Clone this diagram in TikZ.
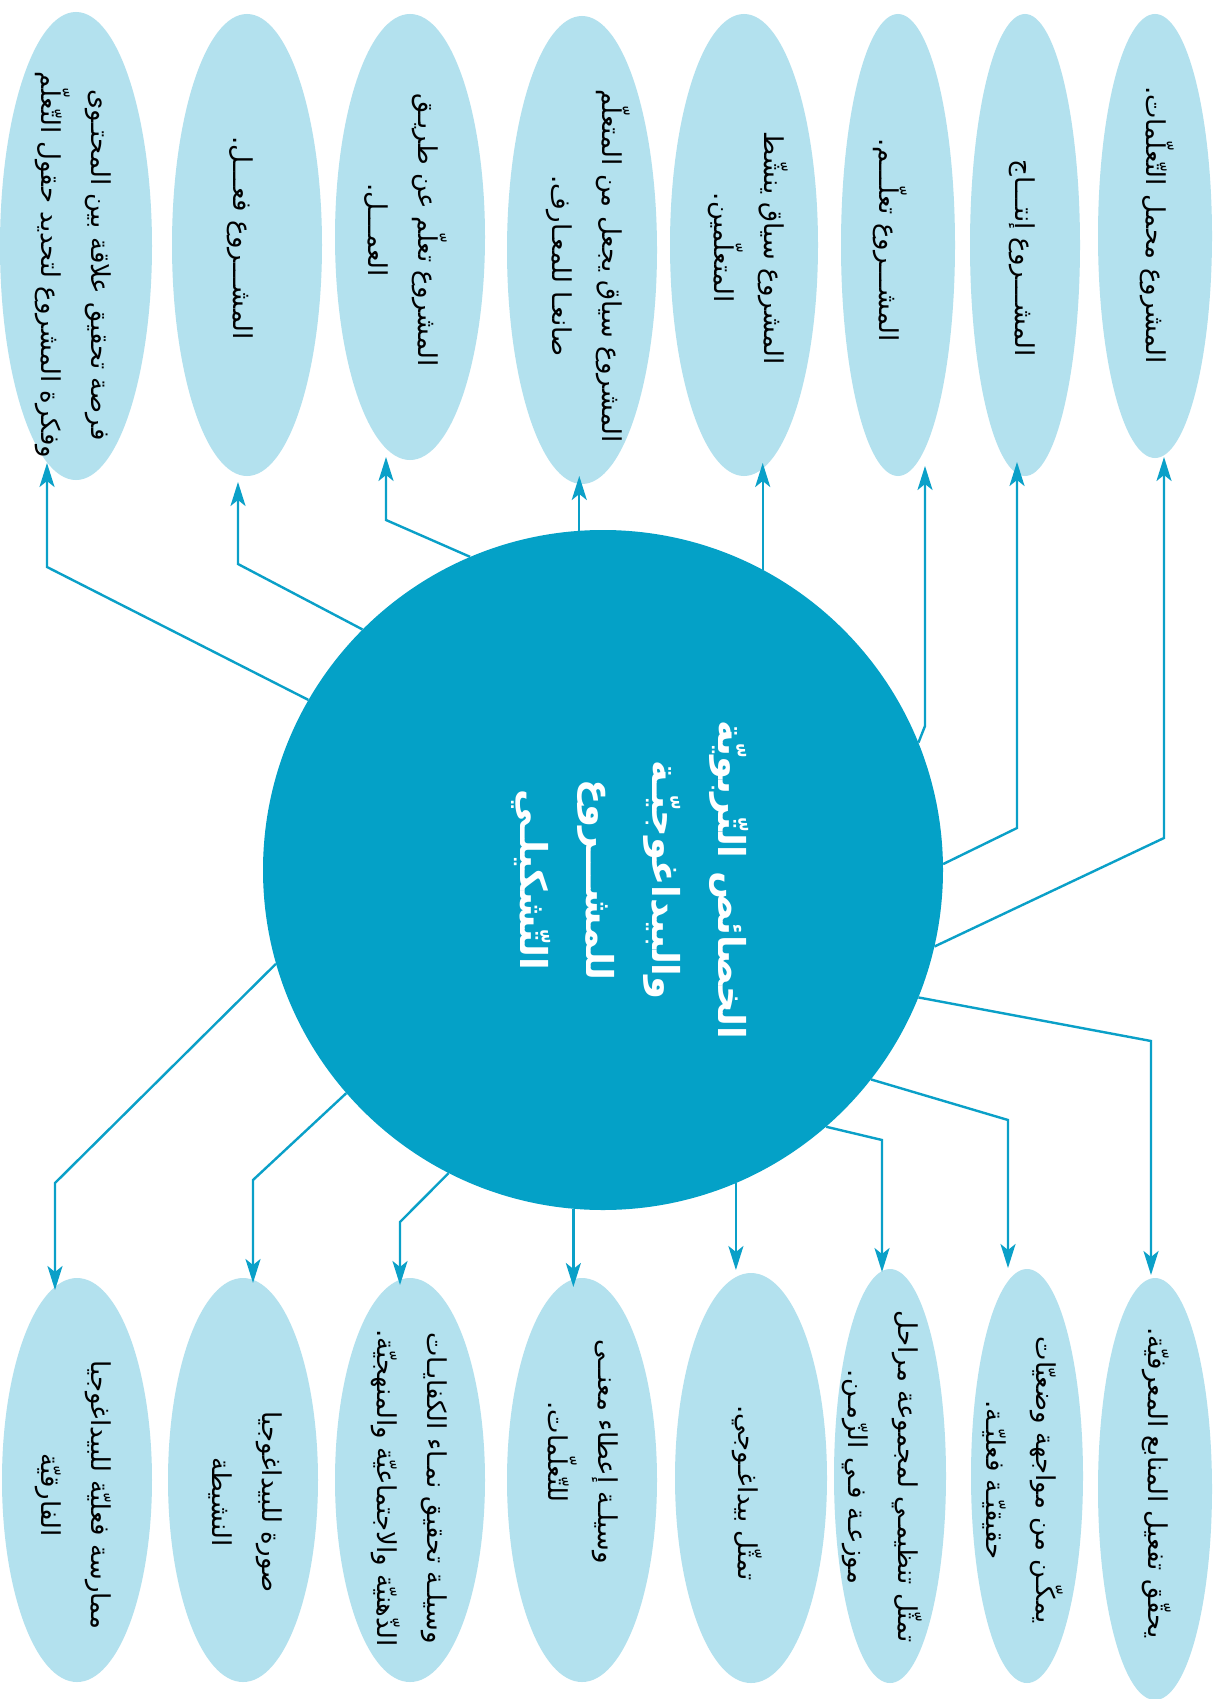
\documentclass[tikz,border=0pt]{standalone}
\usepackage{fontspec}
\newfontfamily\arabicfont[Script=Arabic]{DejaVu Sans}
\TeXXeTstate=1
\usetikzlibrary{shapes.geometric,arrows.meta}
\definecolor{mainblue}{HTML}{04A1C7}
\definecolor{lightblue}{HTML}{B3E1EE}
\definecolor{linec}{HTML}{0AA0C8}
\begin{document}
\begin{tikzpicture}[x=1pt,y=-1pt,
 bub/.style={ellipse, fill=lightblue, inner sep=0pt},
 btext/.style={rotate=-90, align=center, text=black, inner sep=0pt, font=\arabicfont\fontsize{26}{50}\selectfont},
 ctext/.style={rotate=-90, align=center, text=white, inner sep=0pt, font=\arabicfont\bfseries\fontsize{37}{66}\selectfont},
 conn/.style={draw=linec, line width=2.4pt, -{Stealth[length=24pt,width=15pt,inset=6pt]}},
]
\useasboundingbox (0,0) rectangle (1214,1699);
\fill[white] (0,0) rectangle (1214,1699);

% top ellipses
\node[bub, minimum width=152pt, minimum height=468pt] (e1) at (76,246) {};
\node[bub, minimum width=150pt, minimum height=462pt] (e2) at (247,245) {};
\node[bub, minimum width=150pt, minimum height=446pt] (e3) at (410,237) {};
\node[bub, minimum width=150pt, minimum height=468pt] (e4) at (582,250) {};
\node[bub, minimum width=148pt, minimum height=462pt] (e5) at (744,245) {};
\node[bub, minimum width=114pt, minimum height=462pt] (e6) at (898,245) {};
\node[bub, minimum width=110pt, minimum height=462pt] (e7) at (1025,245) {};
\node[bub, minimum width=114pt, minimum height=444pt] (e8) at (1155,236) {};

% bottom ellipses
\node[bub, minimum width=150pt, minimum height=404pt] (b1) at (77,1480) {};
\node[bub, minimum width=150pt, minimum height=404pt] (b2) at (243,1480) {};
\node[bub, minimum width=150pt, minimum height=404pt] (b3) at (410,1480) {};
\node[bub, minimum width=150pt, minimum height=404pt] (b4) at (582,1480) {};
\node[bub, minimum width=152pt, minimum height=410pt] (b5) at (751,1478) {};
\node[bub, minimum width=112pt, minimum height=414pt] (b6) at (890,1476) {};
\node[bub, minimum width=112pt, minimum height=414pt] (b7) at (1027,1476) {};
\node[bub, minimum width=114pt, minimum height=422pt] (b8) at (1155,1489) {};

% centre circle
\node[circle, fill=mainblue, minimum size=680pt, inner sep=0pt] (C) at (603,870) {};
\node[ctext] (ct) at (630,880) {\beginR الخصائص التّربويّة\endR\\\beginR والبيداغوجيّـة\endR\\\beginR للمشـــروع\endR\\\beginR التّشكيلـي\endR};

% texts top
\node[btext] (te1) at (73,265) {\beginR فرصة تحقيق علاقة بين المحتـوى\endR\\\beginR وفكرة المشروع لتحديد حقول التّعلّم\endR};
\node[btext] (te2) at (240,238) {\beginR المشـــروع فعـــل.\endR};
\node[btext] (te3) at (406,230) {\beginR المشروع تعلّم عن طريـق\endR\\\beginR العمـــل.\endR};
\node[btext] (te4) at (588,266) {\beginR المشروع سياق يجعل من المتعلّم\endR\\\beginR صانعـا للمعـارف.\endR};
\node[btext] (te5) at (748,248) {\beginR المشروع سياق ينشّط\endR\\\beginR المتعلّمين.\endR};
\node[btext] (te6) at (890,240) {\beginR المشـــروع تعلّـــم.\endR};
\node[btext] (te7) at (1022,258) {\beginR المشـــروع إنتـــاج\endR};
\node[btext] (te8) at (1157,225) {\beginR المشروع محمل التّعلّمات.\endR};

% texts bottom
\node[btext] (tb1) at (73,1495) {\beginR ممارسة فعليّة للبيداغوجيا\endR\\\beginR الفارقيّة\endR};
\node[btext] (tb2) at (245,1502) {\beginR صورة للبيداغوجيا\endR\\\beginR النشيطة\endR};
\node[btext] (tb3) at (409,1488) {\beginR وسيلـة تحقيق نمـاء الكفايـات\endR\\\beginR الذّهنيّة والاجتماعيّة والمنهجيّة.\endR};
\node[btext] (tb4) at (583,1452) {\beginR وسيلـة إعطاء معنــى\endR\\\beginR للتّعلّمات.\endR};
\node[btext] (tb5) at (747,1493) {\beginR تمثّل بيداغـوجي.\endR};
\node[btext] (tb6) at (882,1477) {\beginR تمثّل تنظيمـي لمجموعة مراحل\endR\\\beginR موزعـة فـي الزّمـن.\endR};
\node[btext] (tb7) at (1023,1480) {\beginR يمكّـن من مواجهة وضعيّات\endR\\\beginR حقيقيّـة فعليّـة.\endR};
\node[btext] (tb8) at (1157,1483) {\beginR يحقّق تفعيل المنابع المعرفيّة.\endR};

% bend points and tips
\coordinate (k1) at (47,567);   \coordinate (t1) at (47,463);
\coordinate (k2) at (238,564);  \coordinate (t2) at (238,482);
\coordinate (k3) at (386,520);  \coordinate (t3) at (386,457);
\coordinate (t4) at (579,476);
\coordinate (t5) at (759,463);
\coordinate (k6) at (925,726);  \coordinate (t6) at (925,466);
\coordinate (k7) at (1017,828); \coordinate (t7) at (1017,462);
\coordinate (k8) at (1164,838); \coordinate (t8) at (1164,457);

\coordinate (m8) at (1151,1041); \coordinate (u8) at (1151,1275);
\coordinate (m7) at (1008,1120); \coordinate (u7) at (1008,1268);
\coordinate (m6) at (882,1140);  \coordinate (u6) at (882,1272);
\coordinate (u5) at (733,1270);
\coordinate (u4) at (573,1287);
\coordinate (m3) at (400,1222);  \coordinate (u3) at (400,1285);
\coordinate (m2) at (253,1180);  \coordinate (u2) at (253,1283);
\coordinate (m1) at (55,1183);   \coordinate (u1) at (55,1290);

% connectors top
\draw[conn] (C.150.9) -- (k1) -- (t1);
\draw[conn] (C.135.5) -- (k2) -- (t2);
\draw[conn] (C.113.5) -- (k3) -- (t3);
\draw[conn] (C.94) -- (C.94 |- t4);
\draw[conn] (C.62.4) -- (C.62.4 |- t5);
\draw[conn] (C.22.9) -- (k6) -- (t6);
\draw[conn] (C.1.6) -- (k7) -- (t7);
\draw[conn] (C.-13.3) -- (k8) -- (t8);

% connectors bottom
\draw[conn] (C.-22.2) -- (m8) -- (u8);
\draw[conn] (C.-38.1) -- (m7) -- (u7);
\draw[conn] (C.-49.4) -- (m6) -- (u6);
\draw[conn] (C.-67.6) -- (C.-67.6 |- u5);
\draw[conn] (C.-95.1) -- (C.-95.1 |- u4);
\draw[conn] (C.-117.2) -- (m3) -- (u3);
\draw[conn] (C.-139.8) -- (m2) -- (u2);
\draw[conn] (C.-164.3) -- (m1) -- (u1);
\end{tikzpicture}
\end{document}
